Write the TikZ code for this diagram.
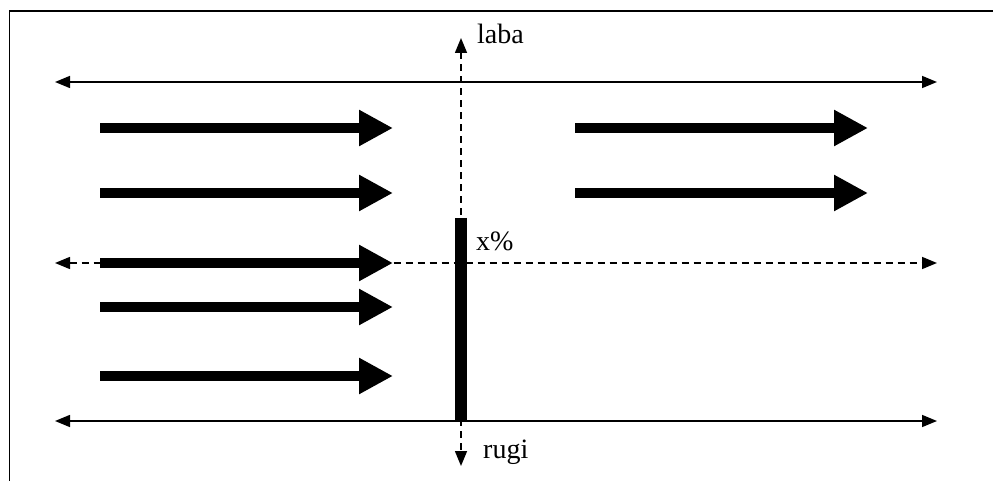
\documentclass[tikz,border=0pt]{standalone}
\usepackage{fontspec}
\setmainfont{Liberation Serif}
\usetikzlibrary{arrows.meta}
\begin{document}
\begin{tikzpicture}[x=1pt,y=-1pt,
  both line/.style={line width=1.5pt,{Triangle[length=15pt,width=12pt]}-{Triangle[length=15pt,width=12pt]}},
  dash line/.style={dash pattern=on 7pt off 5pt},
  flow/.style={line width=10pt,-{Triangle[length=34pt,width=34pt]}},
  lbl/.style={font=\fontsize{28}{32}\selectfont,anchor=base west,inner sep=0pt}]
\useasboundingbox (0,0) rectangle (993,481);
% frame
\draw[line width=1.5pt] (9.5,481) -- (9.5,11) -- (993,11);
% end points of the guide lines
\coordinate (tl) at (55,82);   \coordinate (tr) at (937,82);
\coordinate (ml) at (55,263);  \coordinate (mr) at (937,263);
\coordinate (bl) at (55,421);  \coordinate (br) at (937,421);
\coordinate (vt) at (461,38);  \coordinate (vb) at (461,466);
\coordinate (vc) at (461,263);
% horizontal guide lines
\draw[both line] (tl) -- (tr);
\draw[both line,dash line] (ml) -- (mr);
\draw[both line] (bl) -- (br);
% vertical dashed axis
\draw[line width=1.5pt,dash line,-{Triangle[length=15pt,width=12pt]}] (vc) -- (vt);
\draw[line width=1.5pt,dash line,-{Triangle[length=15pt,width=12pt]}] (vc) -- (vb);
% barrier
\coordinate (bt) at (461,218);
\coordinate (bb) at (461,421);
\draw[line width=12pt] (bt) -- (bb);
% flow arrows, left group
\foreach \y [count=\i] in {128,193,263,307,376}{
  \coordinate (l\i s) at (100,\y);
  \coordinate (l\i e) at (393,\y);
  \draw[flow] (l\i s) -- (l\i e);
}
% flow arrows, right group
\foreach \y [count=\i] in {128,193}{
  \coordinate (r\i s) at (575,\y);
  \coordinate (r\i e) at (868,\y);
  \draw[flow] (r\i s) -- (r\i e);
}
% labels
\node[lbl] (laba) at (477,44) {laba};
\node[lbl] (xp) at (476,251) {x\%};
\node[lbl] (rugi) at (483,458) {rugi};
\end{tikzpicture}
\end{document}
